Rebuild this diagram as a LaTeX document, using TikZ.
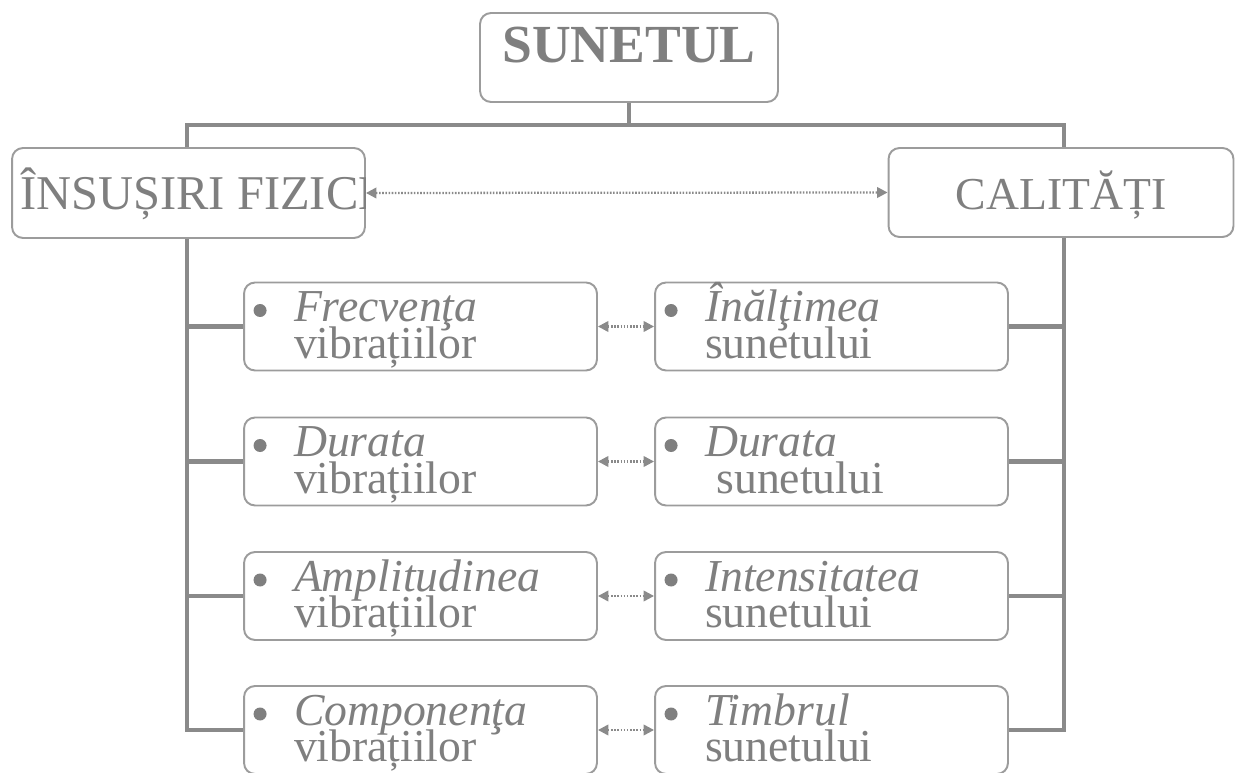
\documentclass[tikz,border=0pt]{standalone}
\usepackage{fontspec}
\setmainfont{Liberation Serif}
\usetikzlibrary{arrows.meta}

\definecolor{inkgray}{HTML}{7F7F7F}
\definecolor{framegray}{HTML}{9C9C9C}
\definecolor{wiregray}{HTML}{8A8A8A}

\newcommand{\capsfont}{\fontsize{26}{30}\selectfont}
\newcommand{\leaffont}{\fontsize{26}{21}\selectfont
  \setlength{\lineskiplimit}{-100pt}\setlength{\lineskip}{0pt}}

\tikzset{
  box/.style={draw=framegray, line width=1.1pt, rounded corners=0.22cm,
    fill=white, text=inkgray, inner sep=0pt},
  leaf/.style={box, minimum width=7.06cm, minimum height=1.76cm,
    text width=5.06cm, align=left, inner xsep=1cm,
    text height=0.7cm, text depth=0.9cm, font=\leaffont},
  wire/.style={draw=wiregray, line width=2.3pt},
  link/.style={draw=wiregray, line width=1.3pt, dash pattern=on 0.9pt off 0.9pt,
    {Triangle[length=6pt,width=6pt]}-{Triangle[length=6pt,width=6pt]}},
}

\begin{document}
\begin{tikzpicture}[x=0.02cm, y=-0.02cm]
\useasboundingbox (0,0) rectangle (1235,773);

%% top
\node[box, minimum width=5.96cm, minimum height=1.78cm,
  text height=0.8cm, text depth=0.58cm,
  font=\fontsize{30.5}{34}\selectfont\bfseries] (sun) at (629,57.5) {SUNETUL};

%% two heads
\node[box, minimum width=7.06cm, minimum height=1.8cm] (ins) at (188.5,193) {};
\begin{scope}
\clip (ins.south west) rectangle ([xshift=-0.5pt]ins.north east);
\node[text=inkgray, font=\fontsize{27.6}{30}\selectfont, anchor=base west, inner sep=0pt]
  (inst) at (20,210) {ÎNSUȘIRI FIZICE};
\end{scope}
\node[box, minimum width=6.9cm, minimum height=1.78cm,
  text height=0.76cm, text depth=0.06cm, font=\capsfont] (cal) at (1061,192.5) {CALITĂȚI};

%% left column
\node[leaf] (fv) at (420.5,326.5) {\textit{Frecvenţa}\\vibrațiilor};
\node[leaf] (dv) at (420.5,461.5) {\textit{Durata}\\vibrațiilor};
\node[leaf] (av) at (420.5,596) {\textit{Amplitudinea}\\vibrațiilor};
\node[leaf] (cv) at (420.5,730) {\textit{Componenţa}\\vibrațiilor};

%% right column
\node[leaf] (ih) at (831.5,326.5) {\textit{Înălţimea}\\sunetului};
\node[leaf] (ds) at (831.5,461.5) {\textit{Durata}\\\hspace*{0.25em}sunetului};
\node[leaf] (is) at (831.5,596) {\textit{Intensitatea}\\sunetului};
\node[leaf] (ts) at (831.5,730) {\textit{Timbrul}\\sunetului};

\foreach \n in {fv,dv,av,cv,ih,ds,is,ts}
  \fill[inkgray] ([xshift=0.34cm,yshift=0.32cm]\n.west) circle (0.13cm);

%% tree lines
\coordinate (hl) at (187,125);
\coordinate (hr) at (1064,125);
\draw[wire] (sun.south) -- (sun.south |- hl);
\draw[wire] (hl |- ins.north) -- (hl) -- (hr) -- (hr |- cal.north);
\draw[wire] (hl |- ins.south) -- (hl |- cv.west) -- (cv.west);
\draw[wire] (hl |- fv.west) -- (fv.west);
\draw[wire] (hl |- dv.west) -- (dv.west);
\draw[wire] (hl |- av.west) -- (av.west);
\draw[wire] (hr |- cal.south) -- (hr |- ts.east) -- (ts.east);
\draw[wire] (hr |- ih.east) -- (ih.east);
\draw[wire] (hr |- ds.east) -- (ds.east);
\draw[wire] (hr |- is.east) -- (is.east);

%% pairs
\draw[link] (ins.east) -- (cal.west);
\draw[link] (fv.east) -- (ih.west);
\draw[link] (dv.east) -- (ds.west);
\draw[link] (av.east) -- (is.west);
\draw[link] (cv.east) -- (ts.west);

\end{tikzpicture}
\end{document}
